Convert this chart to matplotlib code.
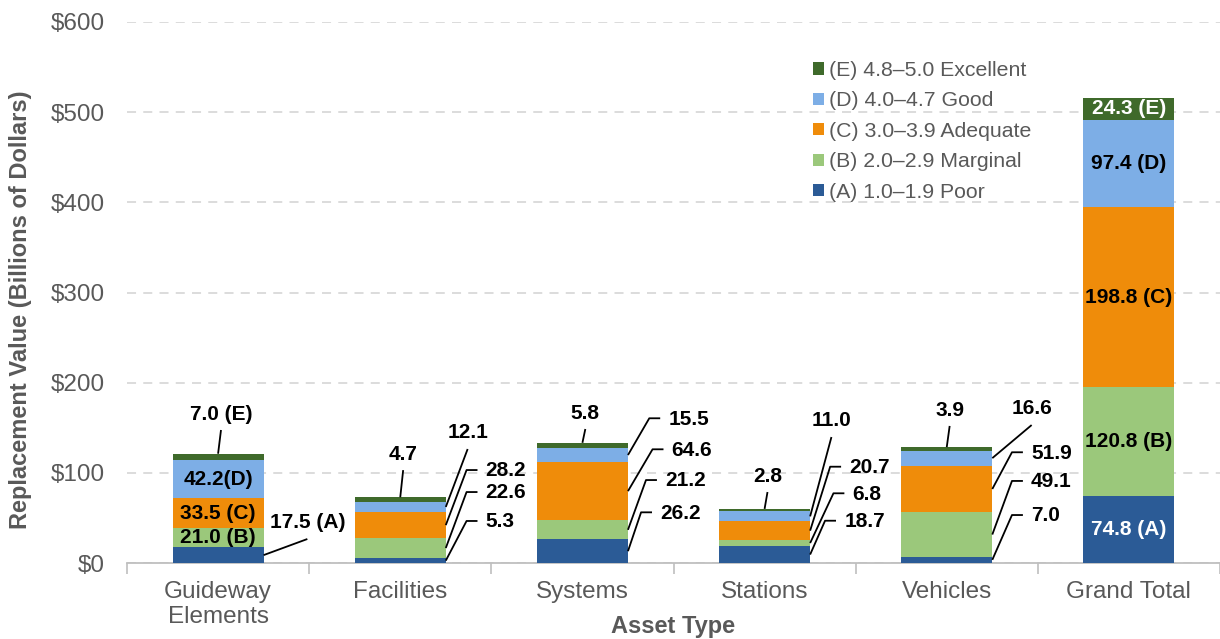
import matplotlib
matplotlib.use("Agg")
import matplotlib.pyplot as plt
import numpy as np

plt.rcParams['font.family'] = ['Liberation Sans', 'DejaVu Sans']

# ---------------- data ----------------
categories = ["Guideway\nElements", "Facilities", "Systems", "Stations", "Vehicles", "Grand Total"]
series_names = ["(A) 1.0\u20131.9 Poor", "(B) 2.0\u20132.9 Marginal", "(C) 3.0\u20133.9 Adequate",
                "(D) 4.0\u20134.7 Good", "(E) 4.8\u20135.0 Excellent"]
poor      = [17.5, 5.3, 26.2, 18.7, 7.0, 74.8]
marginal  = [21.0, 22.6, 21.2, 6.8, 49.1, 120.8]
adequate  = [33.5, 28.2, 64.6, 20.7, 51.9, 198.8]
good      = [42.2, 12.1, 15.5, 11.0, 16.6, 97.4]
excellent = [7.0, 4.7, 5.8, 2.8, 3.9, 24.3]
y_ticks = [0, 100, 200, 300, 400, 500, 600]
y_tick_labels = ["$0", "$100", "$200", "$300", "$400", "$500", "$600"]

# inside-bar labels: (category, segment, text, color)
inside_labels = [
    (0, 1, "21.0 (B)", "black"), (0, 2, "33.5 (C)", "black"), (0, 3, "42.2(D)", "black"),
    (5, 0, "74.8 (A)", "white"), (5, 1, "120.8 (B)", "black"), (5, 2, "198.8 (C)", "black"),
    (5, 3, "97.4 (D)", "black"), (5, 4, "24.3 (E)", "white"),
]

# ---------------- layout for callouts ----------------
# top callouts (from bar top): (category, text, end_y)
top_callouts = [(0, "7.0 (E)", 147.5), (1, "4.7", 103), (2, "5.8", 148.6),
                (3, "2.8", 78.7), (4, "3.9", 152)]
# diagonal callouts (no stub): (category, segment, text, end_dx, end_y)
diag_callouts = [(0, 0, "17.5 (A)", 0.49, 26.6), (1, 3, "12.1", 0.37, 126.4),
                 (3, 3, "11.0", 0.367, 139.7), (4, 3, "16.6", 0.466, 153)]
# elbow callouts: (category, segment, text, elbow_dx, elbow_y)
elbow_callouts = [
    (1, 2, "28.2", 0.364, 103.1), (1, 1, "22.6", 0.364, 78.7), (1, 0, "5.3", 0.364, 46.6),
    (2, 3, "15.5", 0.367, 160.5), (2, 2, "64.6", 0.385, 126.1), (2, 1, "21.2", 0.349, 92.0),
    (2, 0, "26.2", 0.322, 56.2),
    (3, 2, "20.7", 0.36, 106.8), (3, 1, "6.8", 0.378, 77.3), (3, 0, "18.7", 0.332, 46.9),
    (4, 2, "51.9", 0.358, 122.8), (4, 1, "49.1", 0.358, 91.0), (4, 0, "7.0", 0.358, 53.2),
]

colors = ["#2B5B96", "#9BC87B", "#EF8C0A", "#7DAEE6", "#3F6A2B"]
GRAY = "#595959"
BAR_W = 0.5
STUB = 0.06
GAP = 0.045
LBL_FS = 15
AX_FS = 17.5

fig = plt.figure(figsize=(12.2, 6.39), dpi=100)
ax = fig.add_axes([127 / 1220, 76 / 639, 1093 / 1220, 541 / 639])

x = np.arange(len(categories))
series = [poor, marginal, adequate, good, excellent]
bottoms = np.zeros(len(categories))
seg_bottom = []
containers = []
for vals, col, name in zip(series, colors, series_names):
    vals = np.array(vals)
    c = ax.bar(x, vals, BAR_W, bottom=bottoms, color=col, label=name, zorder=3)
    containers.append(c)
    seg_bottom.append(bottoms.copy())
    bottoms = bottoms + vals
totals = bottoms

def seg_mid(ci, si):
    return seg_bottom[si][ci] + series[si][ci] / 2.0

for ci, si, txt, col in inside_labels:
    ax.text(x[ci], seg_mid(ci, si), txt, ha="center", va="center", fontsize=LBL_FS,
            fontweight="bold", color=col, zorder=5)

line_kw = dict(color="black", lw=1.3, zorder=4, solid_capstyle="butt")

for ci, txt, ey in top_callouts:
    ex = x[ci] + 0.016
    ax.plot([x[ci], ex], [totals[ci], ey], **line_kw)
    ax.text(ex, ey + 17, txt, ha="center", va="center", fontsize=LBL_FS,
            fontweight="bold", color="black", zorder=5)

for ci, si, txt, dx, ey in diag_callouts:
    sx = x[ci] + BAR_W / 2
    ex = x[ci] + dx
    ax.plot([sx, ex], [seg_mid(ci, si), ey], **line_kw)
    ax.text(ex, ey + 18, txt, ha="center", va="center", fontsize=LBL_FS,
            fontweight="bold", color="black", zorder=5)

for ci, si, txt, dx, ey in elbow_callouts:
    sx = x[ci] + BAR_W / 2
    exx = x[ci] + dx
    ax.plot([sx, exx, exx + STUB], [seg_mid(ci, si), ey, ey], **line_kw)
    ax.text(exx + STUB + GAP, ey - 1, txt, ha="left", va="center", fontsize=LBL_FS,
            fontweight="bold", color="black", zorder=5)

# axes styling
ax.set_xlim(-0.5, len(categories) - 0.5)
ax.set_ylim(0, 600)
ax.set_yticks(y_ticks)
ax.set_yticklabels(y_tick_labels)
ax.set_xticks(x)
ax.set_xticklabels(categories, linespacing=1.2)
ax.set_xticks(np.arange(-0.5, len(categories)), minor=True)
ax.tick_params(axis="x", which="major", length=0, pad=13, labelsize=AX_FS, colors=GRAY)
ax.tick_params(axis="x", which="minor", length=8, width=1.2, color="#BFBFBF")
ax.tick_params(axis="y", length=0, pad=16, labelsize=AX_FS, colors=GRAY)
for s in ["top", "right", "left"]:
    ax.spines[s].set_visible(False)
ax.spines["bottom"].set_color("#BFBFBF")
ax.spines["bottom"].set_linewidth(1.3)
ax.yaxis.grid(True, color="#D9D9D9", linestyle=(0, (5, 4)), linewidth=1.3, zorder=0)
ax.set_axisbelow(True)

ax.set_ylabel("Replacement Value (Billions of Dollars)", fontsize=17, fontweight="bold", color=GRAY)
ax.yaxis.set_label_coords(-0.087, 0.468)
ax.set_xlabel("Asset Type", fontsize=17, fontweight="bold", color=GRAY, va="bottom")
ax.xaxis.set_label_coords(0.5, -(638.5 - 563) / 541)

handles = [c.patches[0] for c in containers][::-1]
labels = series_names[::-1]
leg = ax.legend(handles, labels, loc="upper left", bbox_to_anchor=(813 / 1220, 1 - 61 / 639),
                bbox_transform=fig.transFigure, frameon=False, fontsize=15.3,
                handlelength=0.5, handleheight=0.5, handletextpad=0.25,
                labelspacing=0.54, borderpad=0, borderaxespad=0)
for t in leg.get_texts():
    t.set_color(GRAY)

fig.savefig("out.png", dpi=100)
